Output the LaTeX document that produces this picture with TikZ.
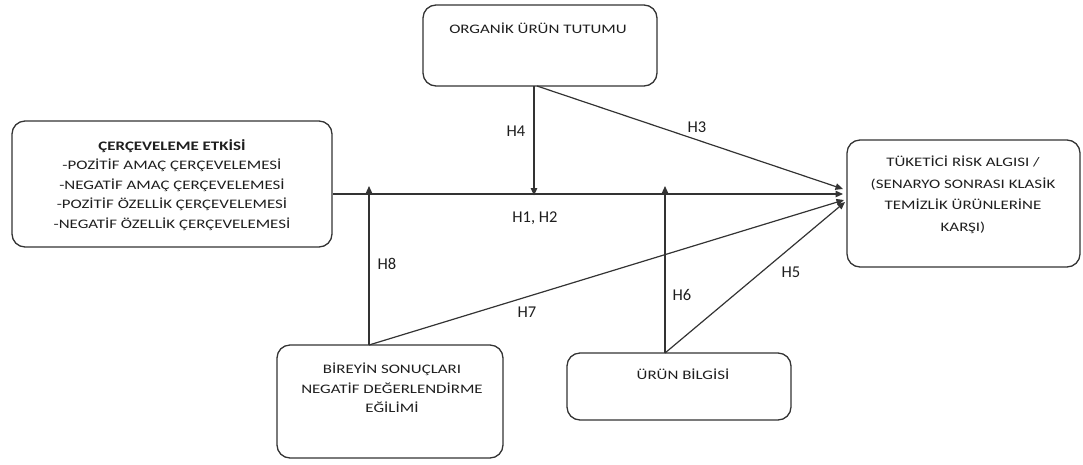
\documentclass[tikz,border=0pt]{standalone}
\usepackage{fontspec}
\setmainfont{Carlito}
\newfontfamily\boxfont{Carlito}[FakeStretch=1.3]
\usetikzlibrary{arrows.meta}
\definecolor{ink}{HTML}{1E1E1E}
\definecolor{edge}{HTML}{333333}
\tikzset{
  box/.style={draw=edge, line width=1.3pt, rounded corners=13pt, inner sep=0pt},
  txt/.style={text=ink, align=center, inner sep=0pt, font=\boxfont\fontsize{13}{19.5}\selectfont},
  lbl/.style={text=ink, inner sep=0pt, font=\fontsize{16.5}{19}\selectfont},
  arr/.style={draw=edge, line width=1.2pt, -{Triangle[length=7.5pt,width=6.5pt]}}
}
\begin{document}
\begin{tikzpicture}[x=1pt,y=-1pt]
\useasboundingbox (0,0) rectangle (1083,464);

% boxes
\draw[box] (12,121) rectangle (332,247);
\node[inner sep=0pt] (frame) at (172,184) {};
\draw[box] (423,5) rectangle (657,86);
\node[inner sep=0pt] (attitude) at (540,45) {};
\draw[box] (847,140) rectangle (1080,267);
\node[inner sep=0pt] (risk) at (963,203) {};
\draw[box] (277,345) rectangle (503,458);
\node[inner sep=0pt] (tendency) at (390,401) {};
\draw[box] (567,353) rectangle (791,420);
\node[inner sep=0pt] (knowledge) at (679,386) {};

% box texts
\node[txt, anchor=north] (frametxt) at (172,139) {\textbf{ÇERÇEVELEME ETKİSİ}\\-POZİTİF AMAÇ ÇERÇEVELEMESİ\\-NEGATİF AMAÇ ÇERÇEVELEMESİ\\-POZİTİF ÖZELLİK ÇERÇEVELEMESİ\\-NEGATİF ÖZELLİK ÇERÇEVELEMESİ};
\node[txt, anchor=base] (atttxt) at (538,33) {ORGANİK ÜRÜN TUTUMU};
\node[txt, anchor=north, font=\boxfont\fontsize{13}{21.5}\selectfont] (risktxt) at (963,156) {TÜKETİCİ RİSK ALGISI /\\(SENARYO SONRASI KLASİK\\TEMİZLİK ÜRÜNLERİNE\\KARŞI)};
\node[txt, anchor=north] (tendtxt) at (392,363) {BİREYİN SONUÇLARI\\NEGATİF DEĞERLENDİRME\\EĞİLİMİ};
\node[txt, anchor=base] (knowtxt) at (683,379) {ÜRÜN BİLGİSİ};

% connector end points
\coordinate (f0) at (333,194);
\coordinate (t12) at (843,194);
\coordinate (t3) at (843,189);
\coordinate (t7) at (844,200);
\coordinate (t5) at (845,202);
\coordinate (a0) at (534,86);
\coordinate (a3) at (537,86);
\coordinate (m4) at (534,194);
\coordinate (b0) at (369,345);
\coordinate (m8) at (369,194);
\coordinate (k0) at (665,353);
\coordinate (m6) at (665,194);

% connectors
\draw[arr] (f0) -- (t12);
\draw[arr] (a3) -- (t3);
\draw[arr] (a0) -- ([yshift=-1.5pt]m4);
\draw[arr] (b0) -- ([yshift=8pt]m8);
\draw[arr] (b0) -- (t7);
\draw[arr] (k0) -- ([yshift=8pt]m6);
\draw[arr] (k0) -- (t5);

% labels
\node[lbl] (h4) at (516,131) {H4};
\node[lbl] (h3) at (697,127) {H3};
\node[lbl] (h12) at (535,218) {H1, H2};
\node[lbl] (h8) at (387,264) {H8};
\node[lbl] (h7) at (527,312) {H7};
\node[lbl] (h6) at (682,295) {H6};
\node[lbl] (h5) at (791,272) {H5};
\end{tikzpicture}
\end{document}
